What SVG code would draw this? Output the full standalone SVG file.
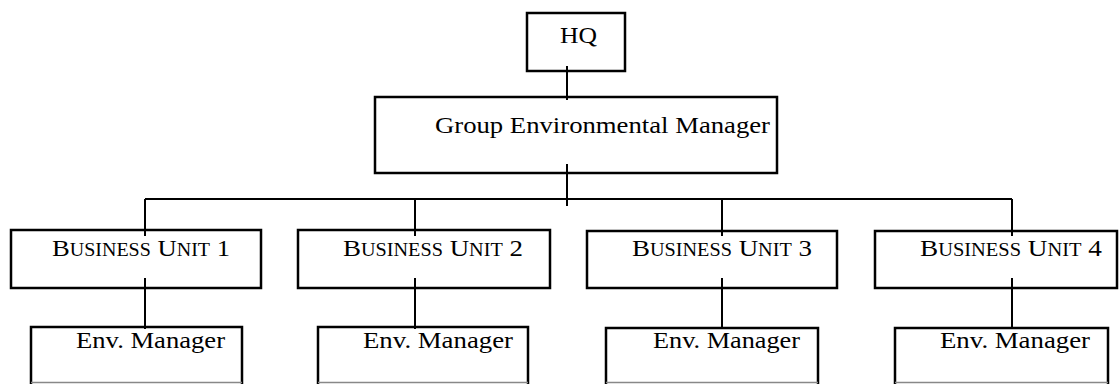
<svg xmlns="http://www.w3.org/2000/svg" width="1120" height="384" viewBox="0 0 1120 384">
<style>
.box{fill:none;stroke:#000;stroke-width:2.5}
.cut{fill:none;stroke:#000;stroke-width:2.5}
.cutb{fill:none;stroke:#888;stroke-width:1.5}
.ln{stroke:#000;stroke-width:2;fill:none}
.t{font-family:"Liberation Serif","Times New Roman",serif;font-size:24px;fill:#000}
.sc{font-size:18px}
</style>
<rect width="1120" height="384" fill="#fff"/>
<g id="connectors">
<line class="ln" x1="567" y1="66" x2="567" y2="100"/>
<line class="ln" x1="567" y1="164" x2="567" y2="206"/>
<line class="ln" x1="145" y1="199" x2="1012" y2="199"/>
<line class="ln" x1="145" y1="199" x2="145" y2="236"/>
<line class="ln" x1="415" y1="199" x2="415" y2="236"/>
<line class="ln" x1="722" y1="199" x2="722" y2="236"/>
<line class="ln" x1="1012" y1="199" x2="1012" y2="236"/>
<line class="ln" x1="145" y1="278" x2="145" y2="329"/>
<line class="ln" x1="415" y1="278" x2="415" y2="329"/>
<line class="ln" x1="722" y1="278" x2="722" y2="329"/>
<line class="ln" x1="1012" y1="278" x2="1012" y2="329"/>
</g>
<g id="hq">
<rect class="box" x="527" y="13" width="98" height="58"/>
<text class="t" x="560" y="43" textLength="37" lengthAdjust="spacingAndGlyphs">HQ</text>
</g>
<g id="group-manager">
<rect class="box" x="375" y="97" width="402" height="76"/>
<text class="t" x="435" y="133" textLength="335" lengthAdjust="spacingAndGlyphs">Group Environmental Manager</text>
</g>
<g id="bu1">
<rect class="box" x="11" y="230" width="250" height="58"/>
<text class="t" x="52" y="256" textLength="178" lengthAdjust="spacingAndGlyphs">B<tspan class="sc">USINESS</tspan> U<tspan class="sc">NIT</tspan> 1</text>
</g>
<g id="bu2">
<rect class="box" x="298" y="230" width="252" height="58"/>
<text class="t" x="343" y="256" textLength="180" lengthAdjust="spacingAndGlyphs">B<tspan class="sc">USINESS</tspan> U<tspan class="sc">NIT</tspan> 2</text>
</g>
<g id="bu3">
<rect class="box" x="587" y="231" width="250" height="57"/>
<text class="t" x="632" y="256" textLength="180" lengthAdjust="spacingAndGlyphs">B<tspan class="sc">USINESS</tspan> U<tspan class="sc">NIT</tspan> 3</text>
</g>
<g id="bu4">
<rect class="box" x="875" y="231" width="242" height="57"/>
<text class="t" x="920" y="256" textLength="182" lengthAdjust="spacingAndGlyphs">B<tspan class="sc">USINESS</tspan> U<tspan class="sc">NIT</tspan> 4</text>
</g>
<g id="env1">
<path class="cut" d="M31 384V327H242V384"/>
<line class="cutb" x1="31" y1="382.5" x2="242" y2="382.5"/>
<text class="t" x="76" y="348" textLength="149" lengthAdjust="spacingAndGlyphs">Env. Manager</text>
</g>
<g id="env2">
<path class="cut" d="M318 384V327H528V384"/>
<line class="cutb" x1="318" y1="382.5" x2="528" y2="382.5"/>
<text class="t" x="363" y="348" textLength="150" lengthAdjust="spacingAndGlyphs">Env. Manager</text>
</g>
<g id="env3">
<path class="cut" d="M606 384V328H818V384"/>
<line class="cutb" x1="606" y1="382.5" x2="818" y2="382.5"/>
<text class="t" x="653" y="348" textLength="147" lengthAdjust="spacingAndGlyphs">Env. Manager</text>
</g>
<g id="env4">
<path class="cut" d="M895 384V328H1108V384"/>
<line class="cutb" x1="895" y1="382.5" x2="1108" y2="382.5"/>
<text class="t" x="940" y="348" textLength="150" lengthAdjust="spacingAndGlyphs">Env. Manager</text>
</g>
</svg>
